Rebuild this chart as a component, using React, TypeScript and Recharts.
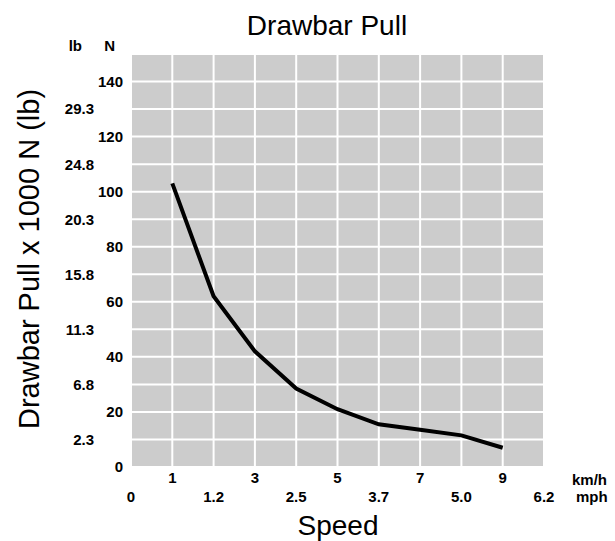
import React from "react";
import { LineChart, Line, XAxis, YAxis, CartesianGrid } from "recharts";

const speedKmh = [1, 2, 3, 4, 5, 6, 7, 8, 9];
const pullN = [103, 62, 42, 28.5, 21, 15.5, 13.5, 11.5, 7];

const kmhTicks = [0, 1, 2, 3, 4, 5, 6, 7, 8, 9, 10];
const kmhLabeled = [1, 3, 5, 7, 9];
const mphTicks = [0, 2, 4, 6, 8, 10];
const mphLabels = ["0", "1.2", "2.5", "3.7", "5.0", "6.2"];
const yTicks = [0, 10, 20, 30, 40, 50, 60, 70, 80, 90, 100, 110, 120, 130, 140, 150];
const nLabeled = [0, 20, 40, 60, 80, 100, 120, 140];
const lbTickValues = [10, 30, 50, 70, 90, 110, 130];
const lbLabels = ["2.3", "6.8", "11.3", "15.8", "20.3", "24.8", "29.3"];

const data = speedKmh.map((s, i) => ({ speed: s, pull: pullN[i] }));

const W = 615;
const H = 541;
const tickFont = "'Liberation Sans', Arial, Helvetica, sans-serif";
const titleFont = "'Liberation Sans', Arial, Helvetica, sans-serif";
const FS = 15;

const YTick = (props: any) => {
  const { x, y, payload } = props;
  const v = payload.value;
  const items: any[] = [];
  if (nLabeled.includes(v)) {
    items.push(
      <text key="n" x={x - 8} y={y} dy="0.36em" textAnchor="end" fontSize={FS} fontWeight="bold" fontFamily={tickFont} fill="#000">
        {String(v)}
      </text>
    );
  }
  const li = lbTickValues.indexOf(v);
  if (li >= 0) {
    items.push(
      <text key="lb" x={x - 37} y={y} dy="0.36em" textAnchor="end" fontSize={FS} fontWeight="bold" fontFamily={tickFont} fill="#000">
        {lbLabels[li]}
      </text>
    );
  }
  if (v === 150) {
    items.push(
      <text key="hlb" x={x - 49} y={y - 3} textAnchor="end" fontSize={FS} fontWeight="bold" fontFamily={tickFont} fill="#000">
        lb
      </text>
    );
    items.push(
      <text key="hn" x={x - 16} y={y - 3} textAnchor="end" fontSize={FS} fontWeight="bold" fontFamily={tickFont} fill="#000">
        N
      </text>
    );
  }
  return <g>{items}</g>;
};

const KmhTick = (props: any) => {
  const { x, y, payload } = props;
  const v = payload.value;
  return (
    <g>
      {kmhLabeled.includes(v) && (
        <text x={x} y={y + 16} textAnchor="middle" fontSize={FS} fontWeight="bold" fontFamily={tickFont} fill="#000">
          {String(v)}
        </text>
      )}
      {v === 10 && (
        <text x={x + 28} y={y + 18} textAnchor="start" fontSize={FS} fontWeight="bold" fontFamily={tickFont} fill="#000">
          km/h
        </text>
      )}
    </g>
  );
};

const MphTick = (props: any) => {
  const { x, y, payload } = props;
  const v = payload.value;
  const i = mphTicks.indexOf(v);
  return (
    <g>
      <text x={x} y={y + 15} textAnchor="middle" fontSize={FS} fontWeight="bold" fontFamily={tickFont} fill="#000">
        {mphLabels[i]}
      </text>
      {v === 10 && (
        <text x={x + 32} y={y + 15} textAnchor="start" fontSize={FS} fontWeight="bold" fontFamily={tickFont} fill="#000">
          mph
        </text>
      )}
    </g>
  );
};

export default function App() {
  return (
    <div style={{ position: "absolute", left: 0, top: 0, width: W, height: H, background: "#fff" }}>
      <LineChart width={W} height={H} data={data} margin={{ top: 54, right: 71, bottom: 34, left: 0 }}>
        <CartesianGrid xAxisId="km" fill="#cccccc" stroke="#ffffff" strokeWidth={2} horizontal={true} vertical={true} />
        <XAxis
          xAxisId="km"
          dataKey="speed"
          type="number"
          domain={[0, 10]}
          allowDataOverflow
          ticks={kmhTicks}
          interval={0}
          axisLine={false}
          tickLine={false}
          tickSize={0}
          tickMargin={0}
          height={20}
          tick={<KmhTick />}
        />
        <XAxis
          xAxisId="mph"
          dataKey="speed"
          type="number"
          domain={[0, 10]}
          allowDataOverflow
          ticks={mphTicks}
          interval={0}
          axisLine={false}
          tickLine={false}
          tickSize={0}
          tickMargin={0}
          height={20}
          tick={<MphTick />}
        />
        <YAxis
          type="number"
          domain={[0, 150]}
          allowDataOverflow
          ticks={yTicks}
          interval={0}
          axisLine={false}
          tickLine={false}
          tickSize={0}
          tickMargin={0}
          width={131}
          tick={<YTick />}
        />
        <Line
          xAxisId="km"
          type="linear"
          dataKey="pull"
          stroke="#000"
          strokeWidth={4}
          dot={false}
          isAnimationActive={false}
        />
      </LineChart>
      <svg width={W} height={H} style={{ position: "absolute", left: 0, top: 0, pointerEvents: "none" }}>
        <text x={327} y={35} textAnchor="middle" fontSize={28} fontFamily={titleFont} fill="#000">
          Drawbar Pull
        </text>
        <text
          x={0}
          y={0}
          transform="translate(39, 259) rotate(-90)"
          textAnchor="middle"
          fontSize={29}
          fontFamily={titleFont}
          fill="#000"
        >
          Drawbar Pull x 1000 N (lb)
        </text>
        <text x={338} y={535} textAnchor="middle" fontSize={28} fontFamily={titleFont} fill="#000">
          Speed
        </text>
      </svg>
    </div>
  );
}
